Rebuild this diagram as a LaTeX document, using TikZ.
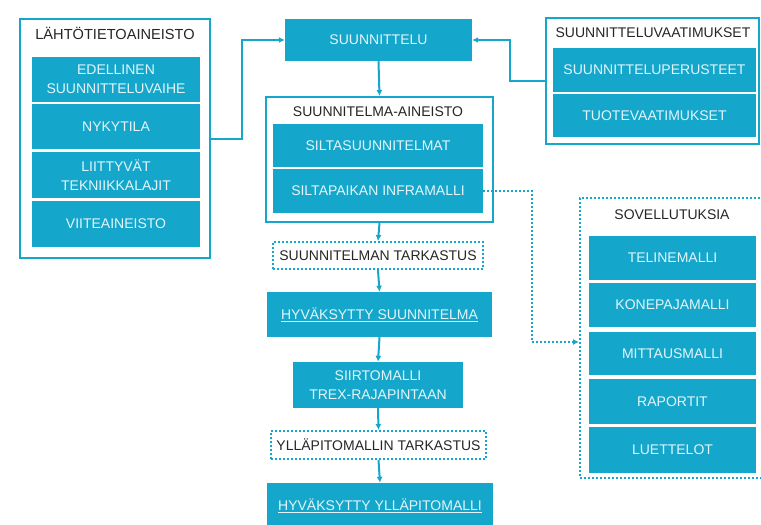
\documentclass[tikz,border=0pt]{standalone}
\usepackage{fontspec}
\setmainfont{Liberation Sans}
\usetikzlibrary{arrows.meta}
\definecolor{teal}{HTML}{14A7CB}
\definecolor{boxtext}{HTML}{E4F5FA}
\definecolor{darktext}{HTML}{262626}
\tikzset{
  txt/.style={font=\fontsize{14}{19}\selectfont},
  fillbox/.style={txt, rectangle, fill=teal, text=boxtext, inner sep=0pt, align=center},
  groupbox/.style={rectangle, draw=teal, line width=2pt, fill=white, inner sep=0pt},
  dotbox/.style={txt, rectangle, draw=teal, dotted, line width=2pt, text=darktext, inner sep=0pt},
  grouptitle/.style={txt, text=darktext, inner sep=0pt},
  conn/.style={draw=teal, line width=2pt, -{Latex[length=6pt,width=6pt]}},
  dconn/.style={conn, dotted}
}
\begin{document}
\begin{tikzpicture}[x=1pt,y=-1pt]
\useasboundingbox (0,0) rectangle (761,525);
\clip (0,0) rectangle (761,525);

% input data group
\node[groupbox, minimum width=190pt, minimum height=239pt] (lg) at (115,138.5) {};
\node[grouptitle, font=\fontsize{14.6}{19}\selectfont] (lgt) at (115,33) {LÄHTÖTIETOAINEISTO};
\node[fillbox, minimum width=168pt, minimum height=45pt] (l1) at (116,79.5) {EDELLINEN\\SUUNNITTELUVAIHE};
\node[fillbox, minimum width=168pt, minimum height=45pt] (l2) at (116,126.5) {NYKYTILA};
\node[fillbox, minimum width=168pt, minimum height=46pt] (l3) at (116,175) {LIITTYVÄT\\TEKNIIKKALAJIT};
\node[fillbox, minimum width=168pt, minimum height=46pt] (l4) at (116,224) {VIITEAINEISTO};

% design step
\node[fillbox, minimum width=187pt, minimum height=42pt] (su) at (378.5,40) {SUUNNITTELU};

% requirements group
\node[groupbox, minimum width=213pt, minimum height=126pt] (rg) at (652,81) {};
\node[grouptitle] (rgt) at (653,33) {SUUNNITTELUVAATIMUKSET};
\node[fillbox, minimum width=203pt, minimum height=44pt] (r1) at (654.5,70) {SUUNNITTELUPERUSTEET};
\node[fillbox, minimum width=203pt, minimum height=43pt] (r2) at (654.5,115.5) {TUOTEVAATIMUKSET};

% design material group
\node[groupbox, minimum width=227pt, minimum height=125pt] (mg) at (379.5,159.5) {};
\node[grouptitle] (mgt) at (378,112) {SUUNNITELMA-AINEISTO};
\node[fillbox, minimum width=210pt, minimum height=43pt] (m1) at (378,145.5) {SILTASUUNNITELMAT};
\node[fillbox, minimum width=210pt, minimum height=44pt] (m2) at (378,191) {SILTAPAIKAN INFRAMALLI};

% main flow
\node[dotbox, minimum width=210pt, minimum height=27pt] (t1) at (378,255.5) {SUUNNITELMAN TARKASTUS};
\node[fillbox, minimum width=225pt, minimum height=45pt] (h1) at (379.5,314.5) {\underline{HYVÄKSYTTY SUUNNITELMA}};
\node[fillbox, minimum width=170pt, minimum height=46pt] (sm) at (378,385) {SIIRTOMALLI\\TREX-RAJAPINTAAN};
\node[dotbox, minimum width=215pt, minimum height=28pt] (t2) at (378.5,445) {YLLÄPITOMALLIN TARKASTUS};
\node[fillbox, minimum width=226pt, minimum height=46pt] (h2) at (380,506) {\underline{HYVÄKSYTTY YLLÄPITOMALLI}};

% applications group
\node[dotbox, minimum width=200pt, minimum height=280pt] (ag) at (680,338) {};
\node[grouptitle] (agt) at (672,215) {SOVELLUTUKSIA};
\node[fillbox, minimum width=167pt, minimum height=44pt] (a1) at (672.5,258) {TELINEMALLI};
\node[fillbox, minimum width=167pt, minimum height=44pt] (a2) at (672.5,305) {KONEPAJAMALLI};
\node[fillbox, minimum width=167pt, minimum height=43pt] (a3) at (672.5,353.5) {MITTAUSMALLI};
\node[fillbox, minimum width=167pt, minimum height=45pt] (a4) at (672.5,401.5) {RAPORTIT};
\node[fillbox, minimum width=167pt, minimum height=46pt] (a5) at (672.5,450) {LUETTELOT};

% connector bends
\coordinate (lbend) at (242,40);
\coordinate (rbend) at (510,40);
\coordinate (dbend) at (532,342);

% connectors
\draw[conn] (lg.east) -| (lbend) -- (su.west);
\draw[conn] (rg.west) -| (rbend) -- (su.east);
\draw[conn] (su.south) -- (mg.north);
\draw[conn] (mg.south) -- (t1.north);
\draw[conn] (t1.south) -- (h1.north);
\draw[conn] (h1.south) -- (sm.north);
\draw[conn] (sm.south) -- (t2.north);
\draw[conn] (t2.south) -- (h2.north);
\draw[dconn] (m2.east) -| (dbend) -- (dbend -| ag.west);
\end{tikzpicture}
\end{document}
